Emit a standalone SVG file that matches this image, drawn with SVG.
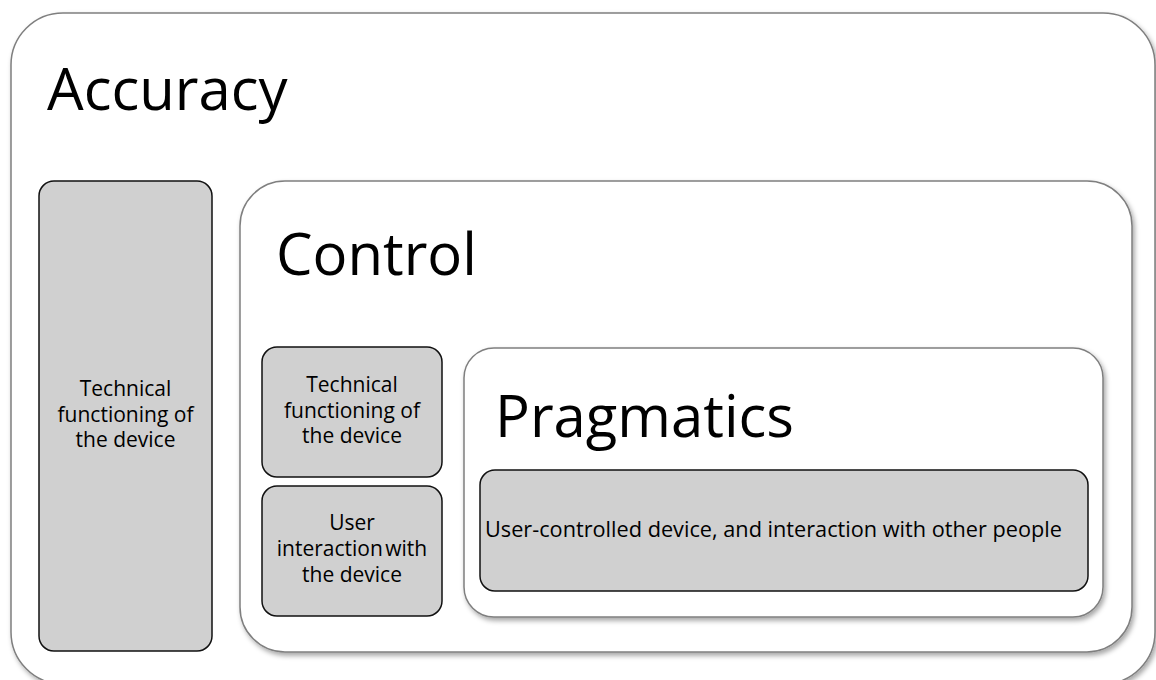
<svg xmlns="http://www.w3.org/2000/svg" width="1156" height="680" viewBox="0 0 1156 680">
<defs>
<filter id="sh" x="-5%" y="-5%" width="110%" height="115%">
<feDropShadow dx="2" dy="3" stdDeviation="2.5" flood-color="#000" flood-opacity="0.35"/>
</filter>
</defs>
<style>
.frame{fill:#fff;stroke:#7f7f7f;stroke-width:1.5;filter:url(#sh)}
.box{fill:#d0d0d0;stroke:#111;stroke-width:1.5}
.title{font-family:"Open Sans","Noto Sans",sans-serif;font-size:58px;fill:#000}
.lbl{font-family:"Open Sans","Noto Sans",sans-serif;font-size:21px;fill:#000;text-anchor:middle}
</style>
<rect width="1156" height="680" fill="#fff"/>
<g id="accuracy">
<rect class="frame" x="11" y="13" width="1144" height="671" rx="52" ry="52"/>
<text class="title" x="47" y="110">Accuracy</text>
</g>
<g id="accuracy-technical">
<rect class="box" x="39" y="181" width="173" height="470" rx="15" ry="15"/>
<text class="lbl" x="125.5" y="396"><tspan x="125.5">Technical</tspan><tspan x="125.5" dy="25.5">functioning of</tspan><tspan x="125.5" dy="25.5">the device</tspan></text>
</g>
<g id="control">
<rect class="frame" x="240" y="181" width="892" height="471" rx="45" ry="45"/>
<text class="title" x="276" y="275">Control</text>
</g>
<g id="control-technical">
<rect class="box" x="262" y="347" width="180" height="130" rx="15" ry="15"/>
<text class="lbl" x="352" y="392"><tspan x="352">Technical</tspan><tspan x="352" dy="25.5">functioning of</tspan><tspan x="352" dy="25.5">the device</tspan></text>
</g>
<g id="control-user">
<rect class="box" x="262" y="486" width="180" height="130" rx="15" ry="15"/>
<text class="lbl" x="352" y="530"><tspan x="352">User</tspan><tspan x="352" dy="26" word-spacing="-3">interaction with</tspan><tspan x="352" dy="26">the device</tspan></text>
</g>
<g id="pragmatics">
<rect class="frame" x="464" y="348" width="639" height="269" rx="30" ry="30"/>
<text class="title" x="495" y="437">Pragmatics</text>
</g>
<g id="pragmatics-user">
<rect class="box" x="480" y="470" width="608" height="121" rx="15" ry="15"/>
<text class="lbl" x="773.5" y="537" textLength="577" lengthAdjust="spacingAndGlyphs">User-controlled device, and interaction with other people</text>
</g>
<g id="connectors"></g>
</svg>
